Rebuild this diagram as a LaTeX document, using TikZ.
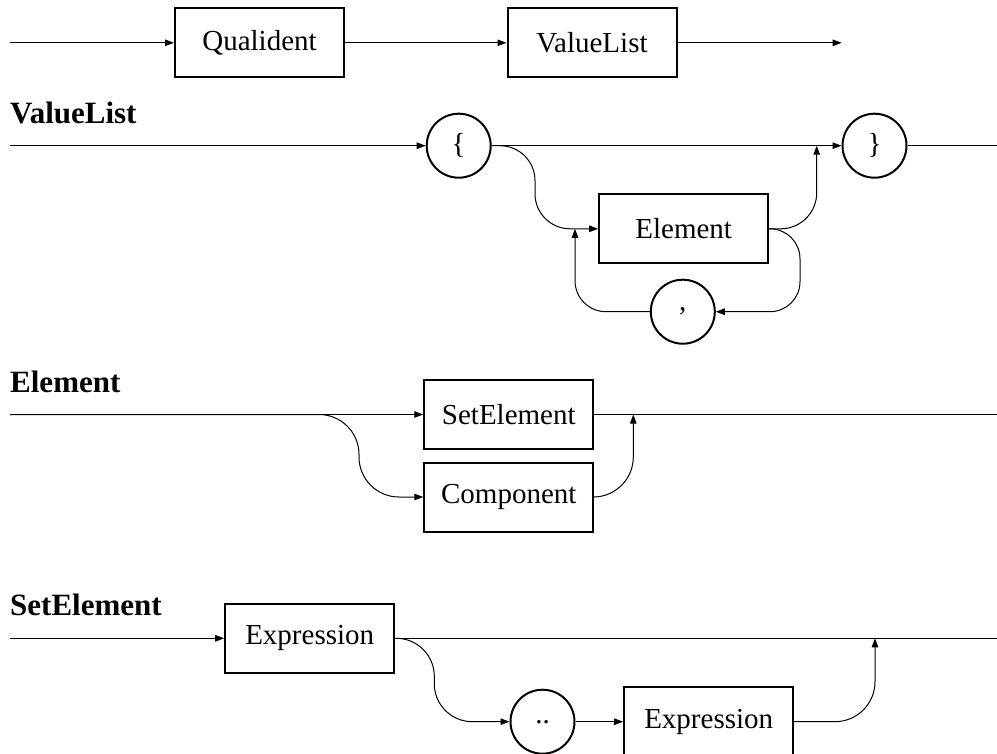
\documentclass[tikz,border=0pt]{standalone}
\usepackage{fontspec}
\setmainfont{Liberation Serif}
\usetikzlibrary{arrows.meta}
\begin{document}
\begin{tikzpicture}[x=1pt,y=-1pt,
  conn/.style={line width=1pt, -{Triangle[length=9pt,width=6.5pt]}},
  plain/.style={line width=1pt},
  ntbox/.style={draw, line width=2pt, minimum width=169pt, minimum height=69pt, inner sep=0pt, font=\fontsize{29}{34}\selectfont},
  tbox/.style={draw, circle, line width=2pt, minimum size=64pt, inner sep=0pt, font=\fontsize{29}{34}\selectfont},
  head/.style={anchor=base west, inner sep=0pt, font=\fontsize{31}{36}\selectfont\bfseries},
]
\useasboundingbox (0,0) rectangle (997,754);

% Row 1
\coordinate (s1) at (10,42.8);
\node[ntbox] (qual) at (259.5,42.8) {Qualident};
\node[ntbox] (vl) at (592,42.8) {ValueList};
\coordinate (e1) at (841.7,42.8);
\draw[conn] (s1) -- (qual.west);
\draw[conn] (qual.east) -- (vl.west);
\draw[conn] (vl.east) -- (e1);

% Row 2: ValueList
\node[head] (hvl) at (10,123.3) {ValueList};
\coordinate (s2) at (10,145.7);
\node[tbox] (lb) at (458.7,145.7) {\{};
\node[tbox] (rb) at (874.5,145.7) {\}};
\coordinate (e2) at (997,145.7);
\node[ntbox] (el) at (683.7,228.8) {Element};
\node[tbox] (cm) at (682.8,311.7) {,};
\draw[conn] (s2) -- (lb.west);
\draw[conn] (lb.east) -- (rb.west);
\draw[plain] (rb.east) -- (e2);
\draw[conn, rounded corners=35pt] (lb.east) -- (535,145.7) -- (535,228.8) -- (el.west);
\draw[conn, rounded corners=31pt] (cm.west) -- (575,311.7) -- (575,228.8);
\draw[conn, rounded corners=36pt] (el.east) -- (816.7,228.8) -- (816.7,145.7);
\draw[conn, rounded corners=30pt] (el.east) -- (800,228.8) -- (800,311.7) -- (cm.east);

% Row 3: Element
\node[head] (he) at (10,392.7) {Element};
\coordinate (s3) at (10,414.5);
\node[ntbox] (se) at (508.8,414.5) {SetElement};
\node[ntbox] (co) at (508.8,497) {Component};
\coordinate (e3) at (997,414.5);
\draw[conn] (s3) -- (se.west);
\draw[conn, rounded corners=40pt] (s3) -- (359,414.5) -- (359,497) -- (co.west);
\draw[plain] (se.east) -- (e3);
\draw[conn, rounded corners=40pt] (co.east) -- (633.3,497) -- (633.3,414.5);

% Row 4: SetElement
\node[head] (hse) at (10,615) {SetElement};
\coordinate (s4) at (10,638.3);
\node[ntbox] (ex1) at (309.7,638.3) {Expression};
\node[tbox] (dd) at (542.5,721.7) {..};
\node[ntbox] (ex2) at (708.7,721.7) {Expression};
\coordinate (e4) at (997,638.3);
\draw[conn] (s4) -- (ex1.west);
\draw[plain] (ex1.east) -- (e4);
\draw[conn, rounded corners=38pt] (ex1.east) -- (434.3,638.3) -- (434.3,721.7) -- (dd.west);
\draw[conn] (dd.east) -- (ex2.west);
\draw[conn, rounded corners=40pt] (ex2.east) -- (875,721.7) -- (875,638.3);
\end{tikzpicture}
\end{document}
